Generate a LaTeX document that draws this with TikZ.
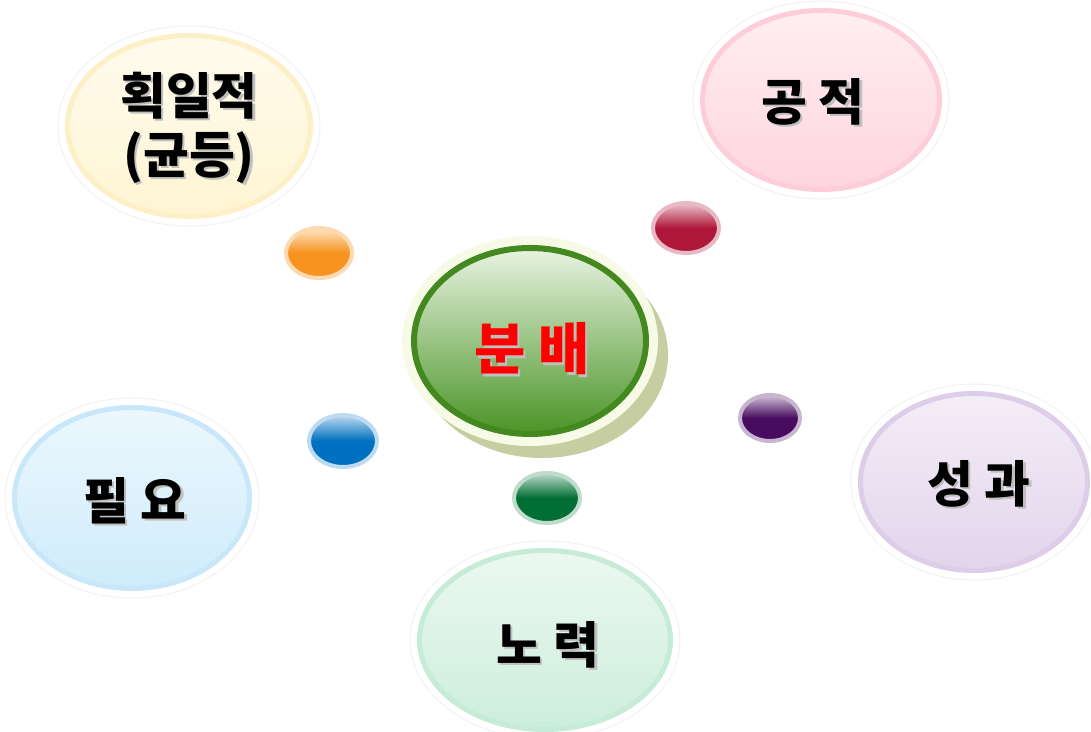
\documentclass[tikz,border=0pt]{standalone}
\usepackage{fontspec}
\newfontfamily\kr{Noto Sans CJK KR}
\usetikzlibrary{shapes.geometric,positioning}

\definecolor{yelc}{HTML}{FFF5D3}
\definecolor{yelr}{HTML}{FDF0C6}
\definecolor{pinkc}{HTML}{FFD5DF}
\definecolor{pinkr}{HTML}{FDCDD9}
\definecolor{bluec}{HTML}{CFECFB}
\definecolor{bluer}{HTML}{C8E7F9}
\definecolor{grnc}{HTML}{CDEEDC}
\definecolor{grnr}{HTML}{C6EBD7}
\definecolor{lavc}{HTML}{E3D4EC}
\definecolor{lavr}{HTML}{DDCDE8}
\definecolor{ballO}{HTML}{F7931E}
\definecolor{ballR}{HTML}{AF173A}
\definecolor{ballP}{HTML}{470B5F}
\definecolor{ballB}{HTML}{0070C0}
\definecolor{ballG}{HTML}{006E35}
\definecolor{midring}{HTML}{43891F}
\definecolor{midtop}{HTML}{E9F3E2}
\definecolor{midbot}{HTML}{4A9426}
\definecolor{midrim}{HTML}{F8FAE8}
\definecolor{midshadow}{HTML}{C6CDA0}

% text with a soft drop shadow
\newcommand{\shtext}[2][black]{\makebox[0pt][l]{\hspace{2.5bp}\raisebox{-2.5bp}{\textcolor{black!25}{#2}}}\textcolor{#1}{#2}}

\begin{document}
\begin{tikzpicture}[x=1bp, y=1bp,
    bubble/.style={ellipse, inner sep=0pt, line width=5bp},
    ball/.style={ellipse, inner sep=0pt, line width=4bp, minimum width=66bp, minimum height=50bp},
    halo/.style={black!5, line width=1bp},
    lbl/.style={inner sep=0pt, font=\kr\bfseries\fontsize{50}{59}\selectfont, align=center}]
\useasboundingbox[fill=white] (0,0) rectangle (1091,732);

% outer bubbles
\draw[halo] (189,606) ellipse [x radius=131, y radius=100];
\node[bubble, draw=yelr, top color=yelc!40!white, bottom color=yelc, minimum width=243bp, minimum height=181bp] (hoek) at (189,606) {};
\node[lbl] (hoek-t) at ([shift={(0,-3)}]hoek.center) {\shtext{획일적}\\\shtext{(균등)}};

\draw[halo] (821,632) ellipse [x radius=128, y radius=99];
\node[bubble, draw=pinkr, top color=pinkc!40!white, bottom color=pinkc, minimum width=237bp, minimum height=179bp] (gong) at (821,632) {};
\node[lbl] (gong-t) at ([shift={(-8,-3)}]gong.center) {\shtext{공 적}};

\draw[halo] (132,234) ellipse [x radius=127, y radius=100];
\node[bubble, draw=bluer, top color=bluec!40!white, bottom color=bluec, minimum width=235bp, minimum height=181bp] (pil) at (132,234) {};
\node[lbl] (pil-t) at ([shift={(3,-4)}]pil.center) {\shtext{필 요}};

\draw[halo] (545,92) ellipse [x radius=135, y radius=99];
\node[bubble, draw=grnr, top color=grnc!40!white, bottom color=grnc, minimum width=251bp, minimum height=179bp] (no) at (545,92) {};
\node[lbl] (no-t) at ([shift={(3,-6)}]no.center) {\shtext{노 력}};

\draw[halo] (974,250) ellipse [x radius=123, y radius=98];
\node[bubble, draw=lavr, top color=lavc!40!white, bottom color=lavc, minimum width=227bp, minimum height=177bp] (seong) at (974,250) {};
\node[lbl] (seong-t) at ([shift={(5,-3)}]seong.center) {\shtext{성 과}};

% small balls
\node[ball, draw=ballO!35!white, top color=ballO!25!white, bottom color=ballO, middle color=ballO] (b-o) at (319,479) {};
\node[ball, draw=ballR!30!white, top color=ballR!25!white, bottom color=ballR, middle color=ballR] (b-r) at (686,504) {};
\node[ball, draw=ballP!30!white, top color=ballP!25!white, bottom color=ballP, middle color=ballP, minimum width=60bp, minimum height=46bp] (b-p) at (770,314) {};
\node[ball, draw=ballB!25!white, top color=ballB!25!white, bottom color=ballB, middle color=ballB, minimum width=68bp, minimum height=52bp] (b-b) at (343,291) {};
\node[ball, draw=ballG!25!white, top color=ballG!25!white, bottom color=ballG, middle color=ballG] (b-g) at (547,234) {};

% center
\fill[midshadow] (542,377) ellipse [x radius=126, y radius=103];
\fill[midrim] (530,391) ellipse [x radius=128, y radius=105];
\node[bubble, line width=6bp, draw=midring, top color=midtop, bottom color=midbot, minimum width=232bp, minimum height=186bp] (bun) at (530,391) {};
\node[lbl, font=\kr\bfseries\fontsize{56}{64}\selectfont] (bun-t) at ([shift={(2,-9)}]bun.center) {\shtext[red]{분 배}};
\end{tikzpicture}
\end{document}
